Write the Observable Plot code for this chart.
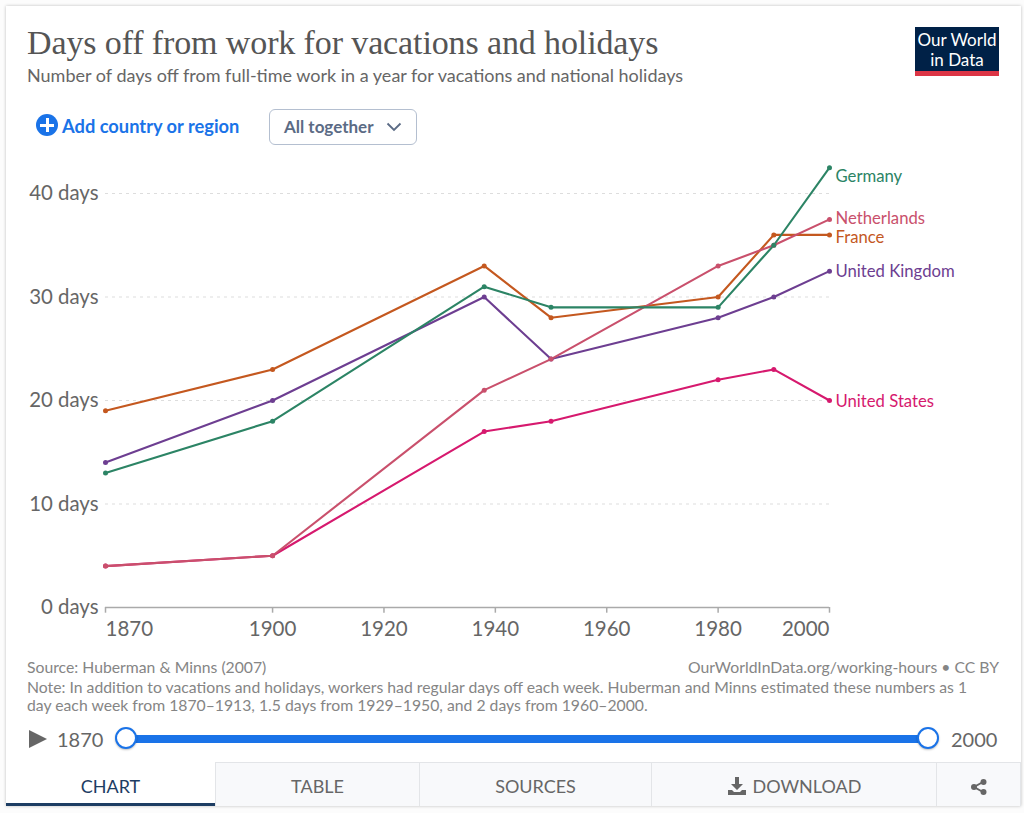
<!DOCTYPE html>
<html><head><meta charset="utf-8">
<script src="https://cdn.jsdelivr.net/npm/d3@7"></script>
<script src="https://cdn.jsdelivr.net/npm/@observablehq/plot@0.6"></script>
<style>
html,body{margin:0;padding:0;background:#fcfcfc;}
body{width:1024px;height:813px;position:relative;overflow:hidden;font-family:Lato,sans-serif;}
#card{position:absolute;left:6px;top:6px;width:1015px;height:800px;background:#fff;box-shadow:0 0 3px rgba(0,0,0,.25);}
.a{position:absolute;white-space:nowrap;}
#title{left:27px;top:24px;font:400 34px "Liberation Serif",serif;color:#555;letter-spacing:-.12px;}
#sub{left:27px;top:64px;font-size:18px;color:#666;}
#logo{left:915px;top:27px;width:84px;height:49px;background:#002147;color:#fff;text-align:center;font-size:17px;line-height:19.5px;}
#logo div{padding-top:3px;height:39px;}
#logo i{display:block;position:absolute;left:0;right:0;bottom:0;height:5px;background:#dc3545;}
#add{left:62px;top:115px;font-size:18.3px;font-weight:700;color:#1a73e8;}
#plus{left:36px;top:114px;width:22px;height:22px;border-radius:50%;background:#1a73e8;color:#fff;}
#plus:before{content:"";position:absolute;left:4px;top:9.5px;width:14px;height:3px;background:#fff;}
#plus:after{content:"";position:absolute;left:9.5px;top:4px;width:3px;height:14px;background:#fff;}
#sel{left:269px;top:109px;width:146px;height:34px;border:1.5px solid #b4bfd0;border-radius:6px;color:#5b6b85;font-weight:700;font-size:17px;line-height:34px;text-indent:14px;}
#sel svg{position:absolute;left:116px;top:12px;}
#plot{left:0;top:150px;}
.foot{font-size:15.75px;color:#858585;}
#track{left:126px;top:735px;width:802px;height:8px;background:#1a73e8;}
.knob{width:18px;height:18px;border:2.5px solid #1a73e8;border-radius:50%;background:#fff;top:727px;box-shadow:0 1px 2px rgba(0,0,0,.25);}
.yr{font-size:20px;color:#666;top:727px;}
#play{left:29px;top:730px;width:0;height:0;border-left:18px solid #666;border-top:9px solid transparent;border-bottom:9px solid transparent;}
.tab{top:762px;height:44px;box-sizing:border-box;background:#f8f9fb;border:1px solid #e3e5e8;border-bottom:0;text-align:center;font-size:18px;line-height:46px;color:#666;}
#chart{left:6px;width:209px;background:#fff;border:0;color:#1d3d63;border-bottom:3px solid #1d3d63;line-height:48px;}
</style></head><body>
<div id="card"></div>
<div class="a" id="title">Days off from work for vacations and holidays</div>
<div class="a" id="sub">Number of days off from full-time work in a year for vacations and national holidays</div>
<div class="a" id="logo"><div>Our World<br>in Data</div><i></i></div>
<div class="a" id="plus"></div>
<div class="a" id="add">Add country or region</div>
<div class="a" id="sel">All together<svg width="16" height="10"><path d="M1.5 1.5 L8 8 L14.5 1.5" fill="none" stroke="#5b6b85" stroke-width="1.8"/></svg></div>
<div class="a" id="plot"></div>
<div class="a foot" style="left:27px;top:657px">Source: Huberman &amp; Minns (2007)</div>
<div class="a foot" style="right:25px;top:657px">OurWorldInData.org/working-hours • CC BY</div>
<div class="a foot" style="left:27px;top:678px;line-height:17.5px">Note: In addition to vacations and holidays, workers had regular days off each week. Huberman and Minns estimated these numbers as 1<br>day each week from 1870–1913, 1.5 days from 1929–1950, and 2 days from 1960–2000.</div>
<div class="a" id="play"></div>
<div class="a yr" style="left:57px">1870</div>
<div class="a" id="track"></div>
<div class="a knob" style="left:115px"></div>
<div class="a knob" style="left:917px"></div>
<div class="a yr" style="left:951px">2000</div>
<div class="a tab" id="chart">CHART</div>
<div class="a tab" style="left:215px;width:205px">TABLE</div>
<div class="a tab" style="left:419px;width:233px">SOURCES</div>
<div class="a tab" style="left:651px;width:286px"><svg width="20" height="20" viewBox="0 0 20 20" style="vertical-align:-3px;margin-right:6px"><path d="M8 1h4v7h4l-6 6-6-6h4z M1 14h4l2 2h6l2-2h4v5H1z" fill="#666"/></svg>DOWNLOAD</div>
<div class="a tab" style="left:936px;width:85px"><svg width="18" height="18" viewBox="0 0 18 18" style="vertical-align:-3px"><path d="M13 4 L4 9 L13 14" stroke="#666" stroke-width="2" fill="none"/><circle cx="13.5" cy="4" r="3" fill="#666"/><circle cx="4" cy="9" r="3" fill="#666"/><circle cx="13.5" cy="14" r="3" fill="#666"/></svg></div>
<script>
const years = [1870, 1900, 1938, 1950, 1980, 1990, 2000];
const france = [19, 23, 33, 28, 30, 36, 36];
const germany = [13, 18, 31, 29, 29, 35, 42.5];
const netherlands = [4, 5, 21, 24, 33, 35, 37.5];
const unitedKingdom = [14, 20, 30, 24, 28, 30, 32.5];
const unitedStates = [4, 5, 17, 18, 22, 23, 20];
const yTicks = [0, 10, 20, 30, 40];
const xTicks = [1870, 1900, 1920, 1940, 1960, 1980, 2000];

const seriesList = [
  {name: "United States", values: unitedStates, color: "#d6196e", dy: 1},
  {name: "France", values: france, color: "#c4581f", dy: 3},
  {name: "United Kingdom", values: unitedKingdom, color: "#6d3e91", dy: 1},
  {name: "Netherlands", values: netherlands, color: "#c9506c", dy: -1},
  {name: "Germany", values: germany, color: "#2c8465", dy: 9}
];
const rows = seriesList.flatMap(s => s.values.map((v, i) => ({country: s.name, year: years[i], days: v})));

const xLabel = (ticks, textAnchor) => Plot.text(ticks, {x: d => d, y: 0, text: d => String(d), dy: 21.5, fontSize: 20.5, fill: "#666", textAnchor});

const chart = Plot.plot({
  width: 1024, height: 500,
  marginLeft: 105, marginRight: 195, marginTop: 0, marginBottom: 43,
  style: {background: "transparent", fontFamily: "Lato, sans-serif", overflow: "visible"},
  x: {domain: [1870, 2000], axis: null},
  y: {domain: [0, 40], range: [457, 43], axis: null},
  marks: [
    Plot.ruleY(yTicks.slice(1), {x1: 1870, x2: 2000, stroke: "#ddd", strokeDasharray: "3,4", strokeWidth: 1}),
    Plot.ruleY([0], {x1: 1870, x2: 2000, stroke: "#aaa", strokeWidth: 1.5}),
    Plot.ruleX(xTicks, {x: d => d, y1: 0, y2: -0.55, stroke: "#aaa", strokeWidth: 1.5}),
    Plot.text(yTicks, {x: 1870, y: d => d, text: d => d + " days", textAnchor: "end", dx: -7, fontSize: 20.4, fill: "#666"}),
    xLabel(xTicks.slice(0, 1), "start"),
    xLabel(xTicks.slice(1, -1), "middle"),
    xLabel(xTicks.slice(-1), "end"),
    ...seriesList.map(s => Plot.line(rows.filter(r => r.country === s.name), {x: "year", y: "days", stroke: s.color, strokeWidth: 2.1, curve: "linear"})),
    ...seriesList.map(s => Plot.dot(rows.filter(r => r.country === s.name), {x: "year", y: "days", fill: s.color, r: 2.5})),
    ...seriesList.map(s => Plot.text([s], {x: () => 2000, y: d => d.values[d.values.length - 1], text: "name", fill: s.color, fontSize: 16.7, textAnchor: "start", dx: 6, dy: s.dy}))
  ]
});
document.getElementById("plot").appendChild(chart);
</script>
</body></html>
